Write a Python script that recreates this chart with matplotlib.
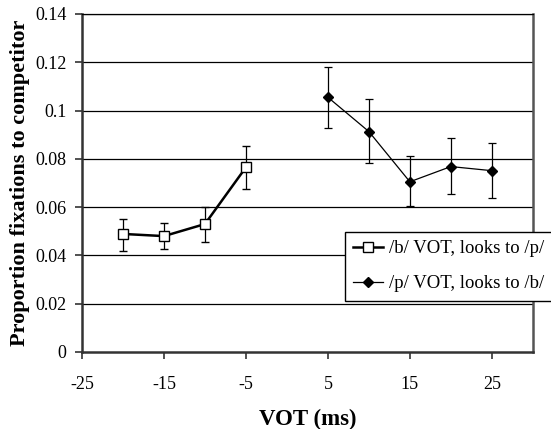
import numpy as np
import matplotlib
matplotlib.use("Agg")
import matplotlib.pyplot as plt
from matplotlib.lines import Line2D

plt.rcParams['font.family'] = ['Liberation Serif', 'DejaVu Serif']
plt.rcParams['axes.unicode_minus'] = False

# /b/ VOT series
vot_b = [-20, -15, -10, -5]
prop_b = [0.0489, 0.0480, 0.0530, 0.0765]
err_b_lo = [0.0072, 0.0053, 0.0076, 0.0091]
err_b_hi = [0.0062, 0.0056, 0.0070, 0.0087]

# /p/ VOT series
vot_p = [5, 10, 15, 20, 25]
prop_p = [0.1055, 0.0913, 0.0705, 0.0768, 0.0751]
err_p_lo = [0.0126, 0.0132, 0.0102, 0.0115, 0.0114]
err_p_hi = [0.0125, 0.0134, 0.0107, 0.0117, 0.0113]

xticks = [-25, -15, -5, 5, 15, 25]
yticks = [0, 0.02, 0.04, 0.06, 0.08, 0.1, 0.12, 0.14]
ytick_labels = ["0", "0.02", "0.04", "0.06", "0.08", "0.1", "0.12", "0.14"]

fig = plt.figure(figsize=(5.51, 4.29), dpi=100)
ax = fig.add_axes([0.1488, 0.1795, 0.8182, 0.7879])

for y in yticks[1:]:
    ax.axhline(y, color='black', lw=0.9, zorder=0)

ax.errorbar(vot_b, prop_b, yerr=[err_b_lo, err_b_hi], color='black', lw=1.8,
            marker='s', ms=6.5, mfc='white', mec='black', mew=1.0,
            ecolor='black', elinewidth=0.9, capsize=3, capthick=0.9, zorder=3)
ax.errorbar(vot_p, prop_p, yerr=[err_p_lo, err_p_hi], color='black', lw=0.9,
            marker='D', ms=5, mfc='black', mec='black',
            ecolor='black', elinewidth=0.9, capsize=3, capthick=0.9, zorder=3)

ax.set_xlim(-25, 30)
ax.set_ylim(0, 0.14)
ax.set_xticks(xticks)
ax.set_yticks(yticks)
ax.set_yticklabels(ytick_labels)
ax.tick_params(direction='out', length=5, width=1.2, labelsize=13, color='#333333')
ax.tick_params(axis='x', pad=12)
ax.tick_params(axis='y', pad=6)

for side in ['left', 'bottom']:
    ax.spines[side].set_linewidth(1.8)
    ax.spines[side].set_color('#333333')
ax.spines['right'].set_linewidth(1.8)
ax.spines['right'].set_color('#555555')
ax.spines['top'].set_linewidth(0.9)
ax.spines['top'].set_color('black')

ax.set_xlabel('VOT (ms)', fontsize=16.5, fontweight='bold', labelpad=12)
ax.set_ylabel('Proportion fixations to competitor', fontsize=16, fontweight='bold', labelpad=4)

handles = [
    Line2D([], [], color='black', lw=1.8, marker='s', ms=6.5, mfc='white', mec='black', mew=1.0),
    Line2D([], [], color='black', lw=0.9, marker='D', ms=5, mfc='black', mec='black'),
]
labels = ['/b/ VOT, looks to /p/', '/p/ VOT, looks to /b/']
leg = fig.legend(handles, labels, loc='upper left', bbox_to_anchor=(0.626, 0.46, 0.38, 0.0),
                 mode='expand', bbox_transform=fig.transFigure, fontsize=13.5, frameon=True,
                 fancybox=False, edgecolor='black', framealpha=1,
                 borderaxespad=0, handlelength=1.6, handletextpad=0.3,
                 borderpad=0.45, labelspacing=0.95)
leg.get_frame().set_linewidth(1.0)

fig.savefig('out.png', dpi=100)
